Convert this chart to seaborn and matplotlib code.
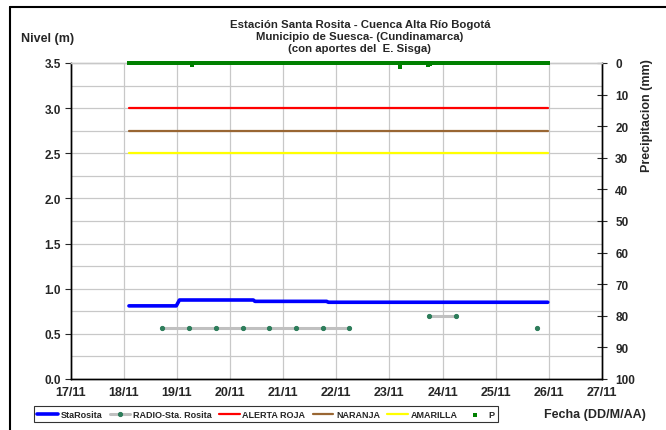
import matplotlib
matplotlib.use('Agg')
import matplotlib.pyplot as plt
import numpy as np
import pandas as pd
import seaborn as sns

# --- data (day of November, fractional) ---
sta_t = [18.1, 18.99, 19.05, 20.44, 20.47, 21.82, 21.85, 25.98]
sta_v = [0.81, 0.81, 0.875, 0.875, 0.86, 0.86, 0.85, 0.85]

radio_t = [18.73, 19.23, 19.74, 20.24, 20.74, 21.25, 21.75, 22.24, 23.75, 24.25, 25.78]
radio_v = [0.56, 0.56, 0.56, 0.56, 0.56, 0.56, 0.56, 0.56, 0.70, 0.70, 0.56]
radio_seg = [0, 0, 0, 0, 0, 0, 0, 0, 1, 1, 2]

thr_t = [18.1, 25.98]
roja = [3.0, 3.0]
naranja = [2.75, 2.75]
amarilla = [2.5, 2.5]

# precipitation, half-hourly readings; almost all zero
p_t = np.arange(18.1, 25.98, 1 / 48)
p_v = np.zeros(len(p_t))
p_rain_t = [19.29, 23.2, 23.73, 23.77]
p_rain_v = [0.6, 1.4, 0.5, 0.4]
for t, v in zip(p_rain_t, p_rain_v):
    p_v[np.argmin(np.abs(p_t - t))] = v

days = list(range(17, 28))
day_labels = ['{}/11'.format(d) for d in days]

sns.set_style('white')
plt.rcParams['font.family'] = ['Liberation Sans', 'DejaVu Sans']
plt.rcParams['font.weight'] = 'bold'

fig = plt.figure(figsize=(6.66, 4.31), dpi=100)
ax = fig.add_axes([70.5 / 666, 51 / 431, 531.5 / 666, 316 / 431])
ax2 = ax.twinx()

grid_c = '#c8c8c8'
for y in np.arange(0.25, 3.5, 0.25):
    ax.axhline(y, color=grid_c, lw=0.9, zorder=0)
for d in days[1:-1]:
    ax.axvline(d, color=grid_c, lw=0.9, zorder=0)

sns.lineplot(x=thr_t, y=roja, color='#ff0000', lw=1.6, ax=ax, label='ALERTA ROJA')
sns.lineplot(x=thr_t, y=naranja, color='#996633', lw=1.6, ax=ax, label='NARANJA')
sns.lineplot(x=thr_t, y=amarilla, color='#ffff00', lw=1.6, ax=ax, label='AMARILLA')

radio = pd.DataFrame({'t': radio_t, 'v': radio_v, 'seg': radio_seg})
for i, (seg, g) in enumerate(radio.groupby('seg')):
    sns.lineplot(data=g, x='t', y='v', color='#c0c0c0', lw=2.2, marker='o',
                 markersize=3, markerfacecolor='#2e7d5b', markeredgecolor='#2e7d5b',
                 ax=ax, label='RADIO-Sta. Rosita' if i == 0 else None)

sns.lineplot(x=sta_t, y=sta_v, color='#0000ff', lw=2.6, ax=ax, label='StaRosita')

sns.scatterplot(x=p_t, y=p_v, color='#008000', marker='s', s=5, linewidth=0,
                ax=ax2, label='P', clip_on=False, zorder=5)

ax.set_xlim(17, 27)
ax.set_ylim(0, 3.5)
ax.set_xticks(days)
ax.set_xticklabels(day_labels)
ax.set_yticks(np.arange(0, 3.51, 0.5))
ax.set_yticklabels(['{:.1f}'.format(v) for v in np.arange(0, 3.51, 0.5)])
ax2.set_ylim(100, 0)
ax2.set_yticks(range(0, 101, 10))
ax.set_xlabel('')
ax.set_ylabel('')
ax2.set_ylabel('')

for a in (ax, ax2):
    for s in a.spines.values():
        s.set_color('black')
        s.set_linewidth(1.0)
    a.spines['top'].set_color(grid_c)
ax.tick_params(axis='x', direction='inout', length=6, width=0.8, labelsize=9, pad=2)
ax.tick_params(axis='y', direction='out', length=4, width=0.8, labelsize=8.5, pad=3)
ax2.tick_params(axis='y', direction='inout', length=7, width=0.8, labelsize=8.5, pad=6)
for lab in ax.get_xticklabels() + ax.get_yticklabels() + ax2.get_yticklabels():
    lab.set_fontweight('bold')

# legend along the bottom
h1, l1 = ax.get_legend_handles_labels()
h2, l2 = ax2.get_legend_handles_labels()
hd = dict(zip(l1 + l2, h1 + h2))
order = ['StaRosita', 'RADIO-Sta. Rosita', 'ALERTA ROJA', 'NARANJA', 'AMARILLA', 'P']
for a in (ax, ax2):
    if a.get_legend():
        a.get_legend().remove()
leg = fig.legend([hd[k] for k in order], order, loc='lower left',
                 bbox_to_anchor=(29 / 666, 3 / 431), ncol=6, frameon=True,
                 fancybox=False, edgecolor='black',
                 handlelength=2.3, handletextpad=0.3, columnspacing=0.8,
                 borderpad=0.4, prop={'weight': 'bold', 'size': 6.5})
leg.get_frame().set_linewidth(0.8)
for lh in leg.legend_handles:
    if hasattr(lh, 'set_sizes'):
        lh.set_sizes([6])

fig.text(544 / 666, 16 / 431, 'Fecha (DD/M/AA)', fontsize=9, fontweight='bold', va='center')
fig.text(21 / 666, 1 - 39 / 431, 'Nivel (m)', fontsize=9, fontweight='bold', va='center')
fig.text(360 / 666, 1 - 37 / 431,
         'Estación Santa Rosita - Cuenca Alta Río Bogotá\nMunicipio de Suesca- (Cundinamarca)\n(con aportes del  E. Sisga)',
         fontsize=8.2, fontweight='bold', ha='center', va='center', linespacing=1.2)
fig.text(647 / 666, 1 - 116 / 431, 'Precipitacion (mm)', fontsize=9, fontweight='bold',
         rotation=90, ha='center', va='center')

# outer frame
fig.add_artist(plt.Line2D([10 / 666, 10 / 666], [0, 1 - 8 / 431], color='black', lw=1.5,
                          transform=fig.transFigure))
fig.add_artist(plt.Line2D([10 / 666, 1], [1 - 8 / 431, 1 - 8 / 431], color='black', lw=1.5,
                          transform=fig.transFigure))

fig.savefig('out.png', dpi=100)
